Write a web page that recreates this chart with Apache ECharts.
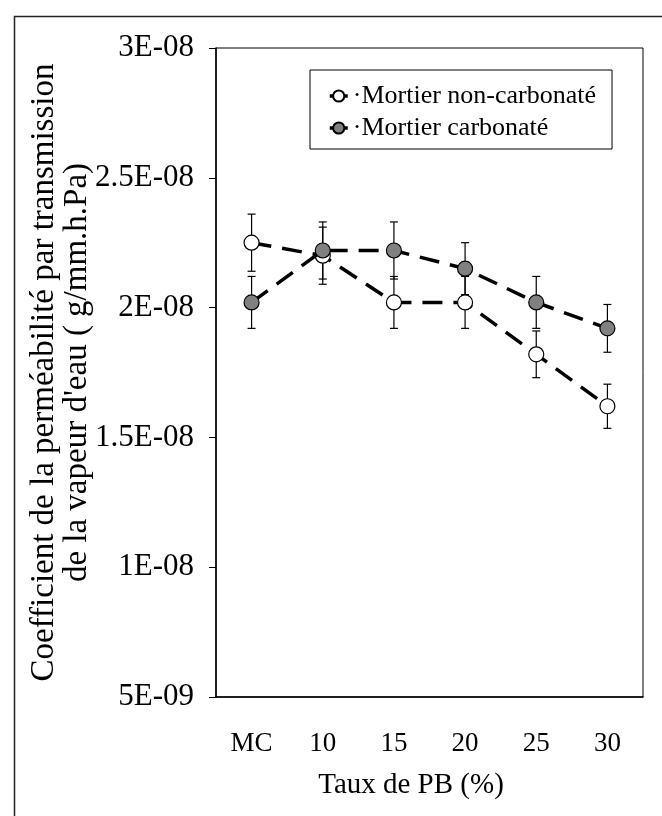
<!DOCTYPE html>
<html>
<head>
<meta charset="utf-8">
<script src="https://cdn.jsdelivr.net/npm/echarts@6/dist/echarts.min.js"></script>
<style>
  html, body { margin: 0; padding: 0; background: #fff; }
  #chart { width: 662px; height: 816px; }
</style>
</head>
<body>
<div id="chart"></div>
<script>
// categories (taux de PB)
const categories = ["MC", "10", "15", "20", "25", "30"];
// Mortier non-carbonaté
const nonCarb = [2.25e-8, 2.2e-8, 2.02e-8, 2.02e-8, 1.82e-8, 1.62e-8];
const nonCarbErr = [1.1e-9, 1.1e-9, 1.0e-9, 1.0e-9, 0.9e-9, 0.85e-9];
// Mortier carbonaté
const carb = [2.02e-8, 2.22e-8, 2.22e-8, 2.15e-8, 2.02e-8, 1.92e-8];
const carbErr = [1.0e-9, 1.1e-9, 1.1e-9, 1.0e-9, 1.0e-9, 0.92e-9];
// axe y
const yMin = 5e-9;
const yMax = 3e-8;
const yStep = 5e-9;

const serif = "'Liberation Serif', 'Times New Roman', serif";

// format Excel : 2.5E-08
const sci = (v) => {
  let s = v.toExponential(1).split("e");
  let m = s[0].replace(/\.0$/, "");
  let e = parseInt(s[1], 10);
  let sign = e < 0 ? "-" : "+";
  let a = Math.abs(e);
  return m + "E" + sign + (a < 10 ? "0" + a : a);
};

// barres d'erreur
const errBars = (vals, errs) => {
  return {
    type: "custom",
    z: 1,
    silent: true,
    data: vals.map((v, i) => [i, v, errs[i]]),
    encode: { x: 0, y: 1 },
    renderItem: (params, api) => {
      let i = api.value(0);
      let v = api.value(1);
      let e = api.value(2);
      let top = api.coord([i, v + e]);
      let bot = api.coord([i, v - e]);
      let w = 4;
      let st = { stroke: "#000", lineWidth: 1.2 };
      return {
        type: "group",
        children: [
          { type: "line", shape: { x1: top[0], y1: top[1], x2: bot[0], y2: bot[1] }, style: st },
          { type: "line", shape: { x1: top[0] - w, y1: top[1], x2: top[0] + w, y2: top[1] }, style: st },
          { type: "line", shape: { x1: bot[0] - w, y1: bot[1], x2: bot[0] + w, y2: bot[1] }, style: st },
        ],
      };
    },
  };
};

let myChart = echarts.init(document.getElementById("chart"));
let option = {
  backgroundColor: "#fff",
  animation: false,
  graphic: [
    {
      // cadre extérieur
      type: "rect",
      left: 12,
      top: 14,
      shape: { width: 700, height: 900 },
      style: { fill: "none", stroke: "#222", lineWidth: 1.5 },
      silent: true,
    },
  ],
  grid: {
    left: 216,
    right: 19,
    top: 48,
    bottom: 119,
    show: true,
    borderColor: "#000",
    borderWidth: 1,
  },
  legend: {
    orient: "vertical",
    left: 310,
    top: 70,
    padding: [13, 16, 8, 18],
    itemGap: 6,
    itemWidth: 18,
    itemHeight: 14,
    borderColor: "#000",
    borderWidth: 1,
    backgroundColor: "#fff",
    data: ["Mortier non-carbonaté", "Mortier carbonaté"],
    formatter: (name) => "·" + name,
    lineStyle: { type: "solid", width: 3.5, color: "#000" },
    textStyle: { fontFamily: serif, fontSize: 26, color: "#000", lineHeight: 26 },
  },
  xAxis: {
    type: "category",
    data: categories,
    boundaryGap: true,
    name: "Taux de PB (%)",
    nameLocation: "middle",
    nameGap: 74,
    nameMoveOverlap: false,
    nameTextStyle: { fontFamily: serif, fontSize: 29, color: "#000", padding: [0, 37, 0, 0] },
    axisLine: { lineStyle: { color: "#000", width: 1.5 } },
    axisTick: { alignWithLabel: true, length: 6, lineStyle: { color: "#000" } },
    axisLabel: { fontFamily: serif, fontSize: 27, color: "#000", margin: 33 },
  },
  yAxis: {
    type: "value",
    min: yMin,
    max: yMax,
    interval: yStep,
    name: "Coefficient de la perméabilité par transmission\nde la vapeur d'eau ( g/mm.h.Pa)",
    nameLocation: "middle",
    nameGap: 122,
    nameMoveOverlap: false,
    nameRotate: 90,
    nameTextStyle: { fontFamily: serif, fontSize: 33, color: "#000", lineHeight: 33 },
    axisLine: { show: true, lineStyle: { color: "#000", width: 1.5 } },
    axisTick: { show: true, length: 7, lineStyle: { color: "#000" } },
    splitLine: { show: false },
    axisLabel: { fontFamily: serif, fontSize: 31, color: "#000", margin: 22, formatter: sci },
  },
  series: [
    errBars(nonCarb, nonCarbErr),
    errBars(carb, carbErr),
    {
      name: "Mortier non-carbonaté",
      type: "line",
      z: 3,
      data: nonCarb,
      symbol: "circle",
      symbolSize: 15,
      lineStyle: { color: "#000", width: 3.5, type: [20, 11] },
      itemStyle: { color: "#fff", borderColor: "#000", borderWidth: 1.2 },
    },
    {
      name: "Mortier carbonaté",
      type: "line",
      z: 4,
      data: carb,
      symbol: "circle",
      symbolSize: 15,
      lineStyle: { color: "#000", width: 3.5, type: [20, 11] },
      itemStyle: { color: "#808080", borderColor: "#000", borderWidth: 1.2 },
    },
  ],
};
myChart.setOption(option);
</script>
</body>
</html>
